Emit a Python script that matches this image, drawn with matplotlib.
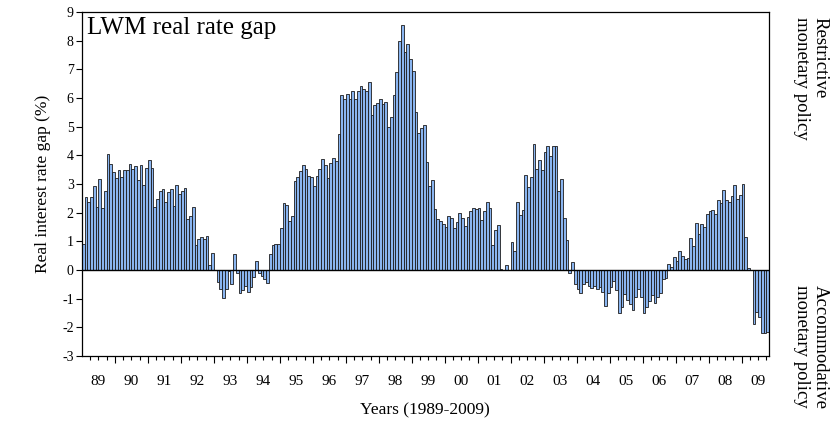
import matplotlib
matplotlib.use("Agg")
import matplotlib.pyplot as plt
import numpy as np

plt.rcParams['font.family'] = ['Liberation Serif', 'DejaVu Serif']
plt.rcParams['axes.unicode_minus'] = False

# monthly real rate gap, 1989:01 - 2009:10
gap_1989 = [0.92, 2.54, 2.38, 2.54, 2.92, 2.19, 3.19, 2.17, 2.76, 4.04, 3.69, 3.43]
gap_1990 = [3.20, 3.49, 3.24, 3.48, 3.48, 3.71, 3.52, 3.62, 3.14, 3.65, 2.95, 3.55]
gap_1991 = [3.84, 3.55, 2.19, 2.48, 2.76, 2.83, 2.38, 2.73, 2.82, 2.23, 2.96, 2.64]
gap_1992 = [2.75, 2.85, 1.79, 1.90, 2.20, 0.88, 1.09, 1.15, 1.09, 1.19, 0.17, 0.61]
gap_1993 = [0.00, -0.42, -0.66, -0.97, -0.66, -0.05, -0.50, 0.55, -0.12, -0.80, -0.70, -0.55]
gap_1994 = [-0.75, -0.60, -0.25, 0.31, -0.10, -0.20, -0.30, -0.45, 0.56, 0.87, 0.89, 0.89]
gap_1995 = [1.46, 2.34, 2.28, 1.72, 1.88, 3.09, 3.23, 3.44, 3.66, 3.53, 3.29, 3.26]
gap_1996 = [2.94, 3.29, 3.51, 3.87, 3.65, 3.21, 3.73, 3.89, 3.80, 4.75, 6.09, 5.95]
gap_1997 = [6.15, 5.97, 6.26, 5.96, 6.23, 6.41, 6.32, 6.24, 6.57, 5.40, 5.76, 5.81]
gap_1998 = [5.95, 5.80, 5.86, 5.00, 5.32, 6.11, 6.90, 8.00, 8.56, 7.60, 7.87, 7.35]
gap_1999 = [6.94, 5.50, 4.77, 4.94, 5.06, 3.77, 2.92, 3.13, 2.13, 1.78, 1.70, 1.61]
gap_2000 = [1.50, 1.88, 1.81, 1.47, 1.67, 1.98, 1.83, 1.53, 1.85, 2.05, 2.16, 2.13]
gap_2001 = [2.16, 1.74, 2.05, 2.36, 2.16, 0.87, 1.39, 1.56, 0.02, 0.00, 0.17, 0.00]
gap_2002 = [0.98, 0.67, 2.38, 1.93, 2.08, 3.31, 2.89, 3.24, 4.39, 3.54, 3.84, 3.50]
gap_2003 = [4.12, 4.34, 3.98, 4.31, 4.33, 2.77, 3.19, 1.83, 1.06, -0.10, 0.29, -0.49]
gap_2004 = [-0.68, -0.80, -0.49, -0.43, -0.57, -0.64, -0.57, -0.68, -0.60, -0.78, -1.24, -0.80]
gap_2005 = [-0.60, -0.40, -0.70, -1.50, -1.30, -0.85, -1.05, -1.20, -1.38, -0.95, -0.65, -0.95]
gap_2006 = [-1.50, -1.30, -1.07, -0.88, -1.15, -0.95, -0.80, -0.30, -0.27, 0.20, 0.12, 0.45]
gap_2007 = [0.33, 0.65, 0.50, 0.37, 0.43, 1.10, 0.82, 1.65, 1.27, 1.60, 1.50, 1.95]
gap_2008 = [2.06, 2.10, 1.97, 2.45, 2.35, 2.80, 2.45, 2.37, 2.57, 2.95, 2.49, 2.63]
gap_2009 = [2.99, 1.15, 0.08, 0.00, -1.90, -1.45, -1.65, -2.20, -2.20, -2.15]

year_labels = ['89', '90', '91', '92', '93', '94', '95', '96', '97', '98', '99',
               '00', '01', '02', '03', '04', '05', '06', '07', '08', '09']

gap = (gap_1989 + gap_1990 + gap_1991 + gap_1992 + gap_1993 + gap_1994 + gap_1995
       + gap_1996 + gap_1997 + gap_1998 + gap_1999 + gap_2000 + gap_2001 + gap_2002
       + gap_2003 + gap_2004 + gap_2005 + gap_2006 + gap_2007 + gap_2008 + gap_2009)
months = np.arange(len(gap))

fig = plt.figure(figsize=(8.34, 4.26), dpi=100)
ax = fig.add_axes([82 / 834, 1 - 356 / 426, 687 / 834, 344 / 426])

ax.bar(months, gap, width=1.0, color='#8ab5f0', edgecolor='#1c1c1c', linewidth=0.6)
ax.axhline(0, color='black', linewidth=1.0)

ax.set_xlim(-0.5, len(gap) - 0.5)
ax.set_ylim(-3, 9)
ax.set_yticks(range(-3, 10))
ax.tick_params(axis='y', labelsize=10, length=4, width=0.8, pad=2)

# year boundaries as major ticks, quarters as minor ticks
n_years = len(year_labels)
ax.set_xticks([12 * k - 0.5 for k in range(1, n_years)])
ax.set_xticklabels([])
ax.set_xticks([3 * k - 0.5 for k in range(1, 4 * n_years) if k % 4 != 0], minor=True)
ax.tick_params(axis='x', which='major', length=5, width=0.8)
ax.tick_params(axis='x', which='minor', length=3, width=0.8)
for k, lab in enumerate(year_labels):
    ax.text(12 * k + 5.5, -0.055, lab, transform=ax.get_xaxis_transform(),
            ha='center', va='top', fontsize=11)

for sp in ax.spines.values():
    sp.set_linewidth(0.9)

ax.set_ylabel('Real interest rate gap (%)', fontsize=12.5, labelpad=8)
fig.text(425 / 834, 1 - 410 / 426, 'Years (1989-2009)', ha='center', va='center', fontsize=12.5)
ax.text(0.008, 0.985, 'LWM real rate gap', transform=ax.transAxes, ha='left', va='top', fontsize=18)

fig.text(811 / 834, 1 - 17 / 426, 'Restrictive\nmonetary policy', rotation=-90,
         ha='center', va='top', fontsize=13.5, multialignment='left', linespacing=1.1)
fig.text(811 / 834, 1 - 285 / 426, 'Accommodative\nmonetary policy', rotation=-90,
         ha='center', va='top', fontsize=13.5, multialignment='left', linespacing=1.1)

fig.savefig('out.png', dpi=100)
